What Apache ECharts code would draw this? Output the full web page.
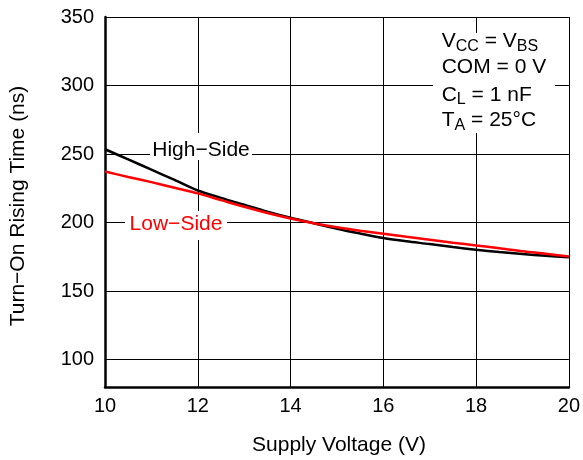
<!DOCTYPE html>
<html>
<head>
<meta charset="utf-8">
<script src="https://cdn.jsdelivr.net/npm/echarts@6/dist/echarts.min.js"></script>
<style>
html,body{margin:0;padding:0;background:#fff;}
#c{width:583px;height:460px;}
</style>
</head>
<body>
<div id="c"></div>
<script>
const voltage = [10, 10.5, 11, 11.5, 12, 12.5, 13, 13.5, 14, 14.5, 15, 15.5, 16, 16.5, 17, 17.5, 18, 18.5, 19, 19.5, 20];
const highSide = [253.5, 246.1, 238.6, 231.1, 223.4, 218, 213, 208, 203.5, 199.5, 195.5, 192, 188.7, 186.3, 184.3, 182.1, 180.2, 178.5, 177, 175.8, 174.6];
const lowSide = [237.2, 233.3, 229.5, 225.4, 221.3, 216.4, 211.5, 207, 203, 199.5, 196.5, 194, 191.8, 189.6, 187.5, 185.3, 183.3, 181.2, 179, 177.2, 175.3];
const xTitle = 'Supply Voltage (V)';
const yTitle = 'Turn\u2212On Rising Time (ns)';
const highLabel = 'High\u2212Side';
const lowLabel = 'Low\u2212Side';
const condLines = ['{a|V}{s|CC}{a| = V}{s|BS}', '{a|COM = 0 V}', '{a|C}{s|L}{a| = 1 nF}', '{a|T}{s|A}{a| = 25\u00B0C}'];

const FONT = '"Liberation Sans", Arial, Helvetica, sans-serif';
const chart = echarts.init(document.getElementById('c'), null, {renderer: 'canvas'});

const pairs = (xs, ys) => xs.map((x, i) => [x, ys[i]]);
const rich = {
  a: {fontSize: 21, fontFamily: FONT, color: '#000', lineHeight: 30},
  s: {fontSize: 16, fontFamily: FONT, color: '#000', padding: [10, 0, 0, 0]}
};
const condY = [41.7, 67.5, 95, 120.7];

chart.setOption({
  animation: false,
  backgroundColor: '#fff',
  grid: {left: 105, right: 11, top: 17, bottom: 73, containLabel: false},
  xAxis: {
    type: 'value', min: 10, max: 20, interval: 2,
    axisLine: {show: true, onZero: false, lineStyle: {color: '#000', width: 2.5}},
    axisTick: {show: false},
    axisLabel: {color: '#000', fontSize: 20, fontFamily: FONT, margin: 9, showMaxLabel: true},
    splitLine: {show: true, lineStyle: {color: '#000', width: 1}}
  },
  yAxis: {
    type: 'value', min: 80, max: 350, interval: 10,
    axisLine: {show: true, onZero: false, lineStyle: {color: '#000', width: 2.5}},
    axisTick: {show: false},
    axisLabel: {color: '#000', fontSize: 20, fontFamily: FONT, margin: 11,
      formatter: v => (v % 50 === 0 ? String(v) : '')},
    splitLine: {show: true, lineStyle: {color: ['transparent', 'transparent', '#000', 'transparent', 'transparent'], width: 1}}
  },
  series: [
    {type: 'line', data: pairs(voltage, highSide), showSymbol: false, smooth: 0.3,
      lineStyle: {color: '#000', width: 2.5}, z: 3},
    {type: 'line', data: pairs(voltage, lowSide), showSymbol: false, smooth: 0.3,
      lineStyle: {color: '#ff0000', width: 2.5}, z: 4}
  ],
  graphic: [
    {type: 'text', z: 100, x: 18, y: 206, rotation: Math.PI / 2,
      style: {text: yTitle, fill: '#000', font: '21px ' + FONT, align: 'center', verticalAlign: 'middle'}},
    {type: 'text', z: 100, x: 339, y: 445,
      style: {text: xTitle, fill: '#000', font: '21px ' + FONT, align: 'center', verticalAlign: 'middle'}},
    {type: 'rect', z: 100, shape: {x: 150, y: 133, width: 102, height: 27}, style: {fill: '#fff'}},
    {type: 'text', z: 101, x: 201, y: 150.5,
      style: {text: highLabel, fill: '#000', font: '21px ' + FONT, align: 'center', verticalAlign: 'middle'}},
    {type: 'rect', z: 100, shape: {x: 125, y: 211, width: 102, height: 29}, style: {fill: '#fff'}},
    {type: 'text', z: 101, x: 176, y: 224.7,
      style: {text: lowLabel, fill: '#ff0000', font: '21px ' + FONT, align: 'center', verticalAlign: 'middle'}},
    {type: 'rect', z: 100, shape: {x: 433, y: 33, width: 122, height: 100}, style: {fill: '#fff'}}
  ].concat(condLines.map((t, i) => ({
    type: 'text', z: 101, x: 441.7, y: condY[i],
    style: {text: t, rich: rich, align: 'left', verticalAlign: 'middle', font: '21px ' + FONT}
  })))
});
</script>
</body>
</html>
